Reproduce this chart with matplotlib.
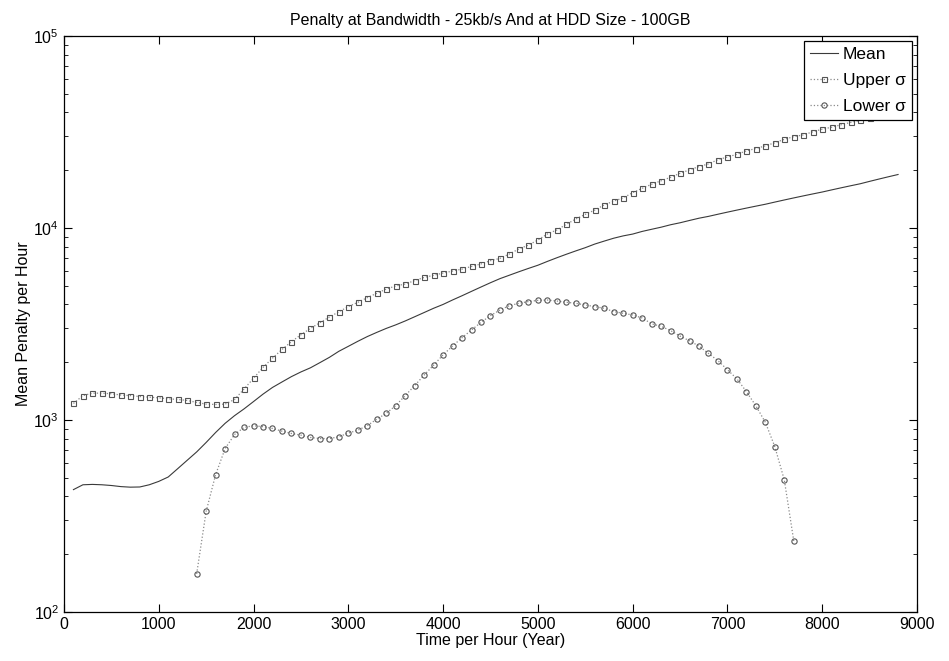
import numpy as np
from matplotlib import pyplot as plt

plt.rcParams['font.family'] = ['Liberation Sans', 'DejaVu Sans']

# tempo (horas) - passo de 100
x_media = list(range(100, 8801, 100))
x_sup = list(range(100, 8701, 100))
x_inf = list(range(1400, 7701, 100))

media = [434, 460, 462, 460, 456, 450, 447, 448, 460, 479,
         505, 558, 617, 682, 764, 861, 961, 1054, 1143, 1248,
         1364, 1478, 1578, 1683, 1780, 1870, 1990, 2120, 2280, 2420,
         2570, 2720, 2860, 3000, 3130, 3280, 3450, 3630, 3820, 4000,
         4220, 4440, 4680, 4930, 5190, 5450, 5680, 5920, 6160, 6400,
         6700, 7000, 7300, 7600, 7900, 8250, 8550, 8850, 9100, 9300,
         9600, 9850, 10100, 10400, 10650, 10950, 11250, 11500, 11800, 12100,
         12400, 12700, 13000, 13300, 13650, 14000, 14350, 14700, 15050, 15400,
         15800, 16200, 16600, 17000, 17500, 18000, 18500, 19000]

superior = [1220, 1340, 1380, 1380, 1370, 1350, 1340, 1325, 1315, 1305,
            1290, 1280, 1265, 1235, 1210, 1205, 1210, 1280, 1450, 1650,
            1880, 2100, 2330, 2560, 2780, 3000, 3210, 3440, 3660, 3900,
            4100, 4340, 4570, 4810, 4990, 5110, 5320, 5530, 5670, 5830,
            5970, 6110, 6310, 6500, 6760, 6950, 7330, 7780, 8150, 8660,
            9310, 9770, 10450, 11140, 11780, 12400, 13200, 13800, 14350, 15280,
            16100, 16900, 17620, 18370, 19280, 20090, 20890, 21580, 22700, 23440,
            24210, 25230, 25940, 26790, 27800, 28970, 29920, 30550, 31700, 32730,
            33500, 34510, 35480, 36390, 37300, 38200, 39000]

inferior = [158, 334, 519, 710, 841, 915, 934, 923, 904, 875,
            851, 834, 811, 801, 800, 818, 855, 885, 935, 1010,
            1083, 1189, 1340, 1510, 1715, 1930, 2185, 2430, 2685, 2943,
            3228, 3498, 3740, 3945, 4055, 4140, 4200, 4217, 4167, 4104,
            4055, 3973, 3897, 3818, 3670, 3597, 3524, 3400, 3170, 3076,
            2922, 2735, 2586, 2425, 2222, 2037, 1828, 1638, 1406, 1185,
            973, 726, 487, 234]

fig = plt.figure(figsize=(9.49, 6.61), dpi=100)
ax = fig.add_axes([0.0674, 0.0741, 0.8989, 0.8714])

ax.semilogy(x_media, media, '-', color='#3a3a3a', linewidth=0.8, label='Mean')
ax.semilogy(x_sup, superior, ':', color='#8a8a8a', linewidth=0.9,
            marker='s', markersize=3.6, markerfacecolor='none',
            markeredgecolor='#555555', markeredgewidth=0.8, label='Upper σ')
ax.semilogy(x_inf, inferior, ':', color='#8a8a8a', linewidth=0.9,
            marker='o', markersize=3.8, markerfacecolor='none',
            markeredgecolor='#555555', markeredgewidth=0.8, label='Lower σ')

ax.set_xlim(0, 9000)
ax.set_ylim(1e2, 1e5)
ax.set_xticks(range(0, 9001, 1000))
ax.tick_params(which='both', direction='in', top=True, right=True, labelsize=11.5)
ax.tick_params(which='major', length=6)
ax.tick_params(which='minor', length=3)
for s in ax.spines.values():
    s.set_linewidth(0.9)

ax.set_title('Penalty at Bandwidth - 25kb/s And at HDD Size - 100GB', fontsize=11.5, pad=8)
ax.set_xlabel('Time per Hour (Year)', fontsize=11.5, labelpad=1)
ax.set_ylabel('Mean Penalty per Hour', fontsize=11.5, labelpad=2)

leg = ax.legend(loc='upper right', fontsize=12.5, fancybox=False, framealpha=1,
                edgecolor='black', borderaxespad=0.3, handlelength=1.6,
                handletextpad=0.3, labelspacing=0.6, borderpad=0.35)
leg.get_frame().set_linewidth(0.9)

fig.savefig('out.png', dpi=100)
